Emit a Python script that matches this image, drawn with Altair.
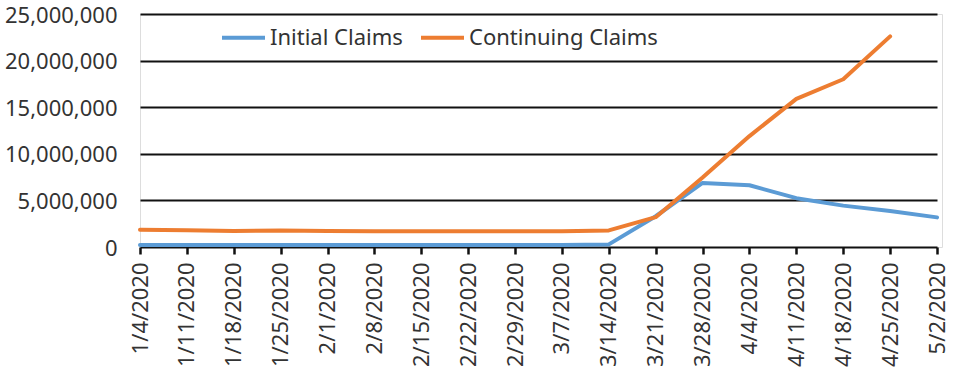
import altair as alt
import pandas as pd

dates = ["1/4/2020", "1/11/2020", "1/18/2020", "1/25/2020", "2/1/2020", "2/8/2020",
         "2/15/2020", "2/22/2020", "2/29/2020", "3/7/2020", "3/14/2020", "3/21/2020",
         "3/28/2020", "4/4/2020", "4/11/2020", "4/18/2020", "4/25/2020", "5/2/2020"]

initial_claims = [210000, 220000, 215000, 210000, 205000, 205000, 210000, 215000, 215000,
                  210000, 280000, 3300000, 6870000, 6620000, 5240000, 4440000, 3870000, 3180000]

continuing_claims = [1850000, 1800000, 1720000, 1780000, 1720000, 1700000, 1700000, 1700000,
                     1700000, 1700000, 1780000, 3200000, 7450000, 11900000, 15900000,
                     18000000, 22600000, None]

series_names = ["Initial Claims", "Continuing Claims"]
series_colors = ["#5B9BD5", "#ED7D31"]
y_ticks = [0, 5000000, 10000000, 15000000, 20000000, 25000000]

rows = []
for i, d in enumerate(dates):
    rows.append({"date": d, "series": series_names[0], "value": initial_claims[i], "order": i})
    rows.append({"date": d, "series": series_names[1], "value": continuing_claims[i], "order": i})
df = pd.DataFrame(rows)

FONT = "Noto Sans"
TEXT = "#333333"
LINE = "#111111"

chart = alt.Chart(df).mark_line(strokeWidth=4, strokeCap="round", strokeJoin="round").encode(
    x=alt.X("date:N", sort=dates,
            scale=alt.Scale(type="point", padding=0, range=[0, 797]),
            axis=alt.Axis(title=None, labelAngle=-90, labelFontSize=22, labelFont=FONT,
                          labelColor=TEXT, tickSize=7, tickWidth=2.5, tickColor=LINE,
                          domain=False, grid=False, labelPadding=8, labelOverlap=False)),
    y=alt.Y("value:Q",
            scale=alt.Scale(domain=[0, 25000000], nice=False, zero=True),
            axis=alt.Axis(title=None, values=y_ticks, format=",.0f", labelFontSize=22,
                          labelFont=FONT, labelColor=TEXT, ticks=False, domain=False,
                          grid=True, gridColor=LINE, gridWidth=2, labelPadding=23,
                          labelOffset=1)),
    color=alt.Color("series:N",
                    scale=alt.Scale(domain=series_names, range=series_colors),
                    legend=alt.Legend(title=None, orient="none", legendX=80, legendY=0,
                                      direction="horizontal", symbolType="stroke",
                                      symbolSize=1849, symbolStrokeWidth=4,
                                      labelFontSize=22, labelFont=FONT, labelColor=TEXT,
                                      labelOffset=3, labelLimit=400, columnPadding=10,
                                      padding=0)),
    order="order:Q",
).properties(
    width=802, height=233,
    autosize=alt.AutoSizeParams(type="none"),
    padding={"left": 140, "top": 14, "right": 33, "bottom": 139},
).configure_view(
    stroke=LINE, strokeWidth=2.5
).configure(background="white")

chart.save("out.html", embed_options={"renderer": "svg", "actions": False})
